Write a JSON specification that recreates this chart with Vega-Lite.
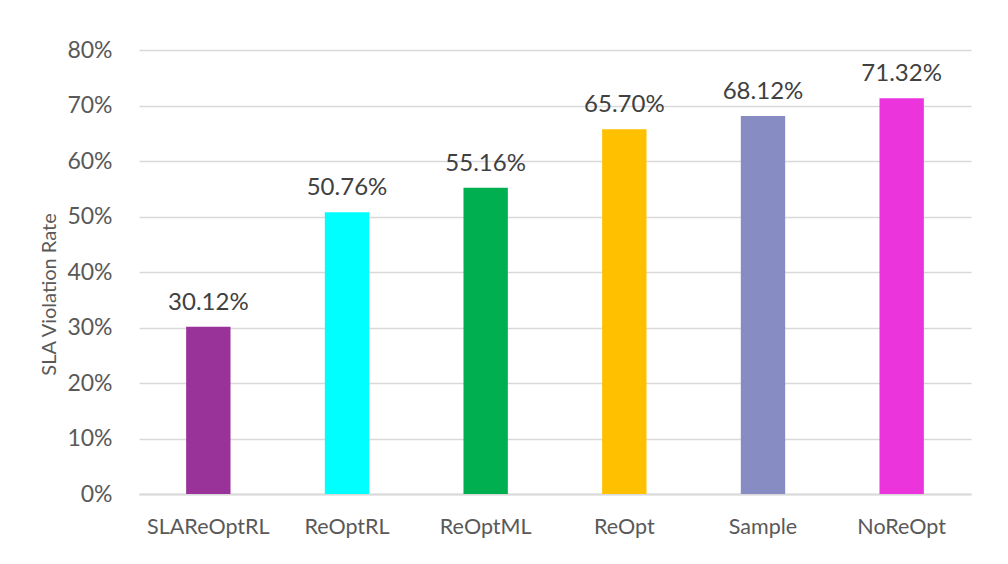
{
  "$schema": "https://vega.github.io/schema/vega-lite/v6.json",
  "autosize": {"type": "none"},
  "width": 832,
  "height": 444,
  "padding": {"left": 139, "top": 50, "right": 37, "bottom": 70},
  "background": "white",
  "config": {
    "font": "Lato",
    "view": {"stroke": null}
  },
  "data": {
    "values": [
      {"method": "SLAReOptRL", "rate": 0.3012, "color": "#993399"},
      {"method": "ReOptRL", "rate": 0.5076, "color": "#00FFFF"},
      {"method": "ReOptML", "rate": 0.5516, "color": "#00B050"},
      {"method": "ReOpt", "rate": 0.657, "color": "#FFC000"},
      {"method": "Sample", "rate": 0.6812, "color": "#878CC3"},
      {"method": "NoReOpt", "rate": 0.7132, "color": "#EC34DC"}
    ]
  },
  "encoding": {
    "x": {
      "field": "method",
      "type": "nominal",
      "sort": null,
      "scale": {"paddingInner": 0.68, "paddingOuter": 0.34},
      "axis": {
        "title": null,
        "labelAngle": 0,
        "labelFontSize": 21.5,
        "labelColor": "#595959",
        "labelPadding": 22,
        "ticks": false,
        "domainColor": "#D9D9D9",
        "domainWidth": 2
      }
    },
    "y": {
      "field": "rate",
      "type": "quantitative",
      "scale": {"domain": [0, 0.8], "nice": false},
      "axis": {
        "title": "SLA Violation Rate",
        "titleFontSize": 20,
        "titleFontWeight": "normal",
        "titleColor": "#595959",
        "titleX": -90,
        "titleY": 244,
        "titleAngle": -90,
        "titleBaseline": "middle",
        "titleAlign": "center",
        "format": ".0%",
        "values": [0, 0.1, 0.2, 0.3, 0.4, 0.5, 0.6, 0.7, 0.8],
        "labelFontSize": 23,
        "labelColor": "#595959",
        "labelPadding": 27,
        "ticks": false,
        "domain": false,
        "gridColor": "#D9D9D9",
        "gridWidth": 1.6
      }
    }
  },
  "layer": [
    {
      "mark": {"type": "bar"},
      "encoding": {
        "color": {"field": "color", "type": "nominal", "scale": null}
      }
    },
    {
      "mark": {"type": "text", "baseline": "alphabetic", "dy": -17, "fontSize": 24, "color": "#404040"},
      "encoding": {
        "text": {"field": "rate", "type": "quantitative", "format": ".2%"}
      }
    }
  ]
}
